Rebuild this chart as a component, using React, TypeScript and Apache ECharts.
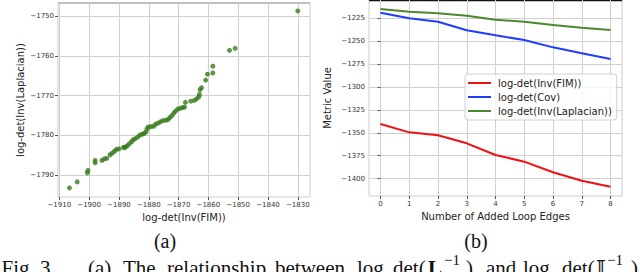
import React, { useEffect, useRef } from "react";
import * as echarts from "echarts";

// ---- Data: subplot (a) scatter ----
const fimLogDet = [
  -1906.6, -1904.0, -1900.6, -1900.4, -1898.0, -1898.0, -1895.7, -1894.9, -1894.1, -1893.0,
  -1892.3, -1891.5, -1890.8, -1890.0, -1888.5, -1888.1, -1887.8, -1887.2, -1886.5, -1885.8,
  -1885.2, -1884.5, -1883.7, -1882.9, -1882.1, -1881.5, -1880.9, -1880.6, -1880.2, -1879.3,
  -1878.4, -1877.7, -1876.9, -1876.1, -1875.3, -1874.3, -1873.5, -1872.9, -1872.2, -1871.6,
  -1871.0, -1870.3, -1869.5, -1868.7, -1868.0, -1867.7, -1865.9, -1864.7, -1863.9, -1863.2,
  -1863.0, -1862.8, -1862.3, -1860.9, -1860.3, -1858.5, -1858.5, -1852.9, -1851.0, -1830.0,
];
const laplacianLogDet = [
  -1793.2, -1791.7, -1789.4, -1788.8, -1786.3, -1786.9, -1786.3, -1785.9, -1785.8, -1784.9,
  -1784.5, -1784.0, -1783.5, -1783.4, -1783.0, -1783.1, -1782.9, -1782.6, -1782.1, -1781.6,
  -1781.1, -1780.8, -1780.4, -1779.9, -1779.7, -1779.5, -1779.1, -1778.4, -1777.9, -1777.8,
  -1777.7, -1777.2, -1776.9, -1776.6, -1776.3, -1776.2, -1776.0, -1775.5, -1775.0, -1774.4,
  -1773.9, -1773.4, -1773.2, -1773.0, -1772.9, -1771.7, -1771.4, -1771.2, -1770.8, -1770.3,
  -1769.7, -1768.5, -1768.0, -1766.1, -1764.6, -1764.3, -1762.6, -1758.6, -1758.1, -1748.7,
];
const scatterXTicks = [-1910, -1900, -1890, -1880, -1870, -1860, -1850, -1840, -1830];
const scatterYTicks = [-1790, -1780, -1770, -1760, -1750];

// ---- Data: subplot (b) lines ----
const addedLoopEdges = [0, 1, 2, 3, 4, 5, 6, 7, 8];
const fimValues = [-1340.4, -1349.5, -1352.7, -1361.5, -1374.2, -1381.5, -1393.0, -1402.3, -1409.0];
const covValues = [-1218.9, -1225.0, -1228.7, -1238.1, -1243.6, -1248.7, -1256.7, -1263.2, -1269.4];
const lapValues = [-1214.8, -1217.8, -1219.5, -1222.2, -1226.5, -1228.7, -1232.3, -1235.3, -1237.8];
const lineYTicks = [-1400, -1375, -1350, -1325, -1300, -1275, -1250, -1225];
const seriesNames = ["log-det(Inv(FIM))", "log-det(Cov)", "log-det(Inv(Laplacian))"];

const SANS = "DejaVu Sans";
const SERIF = "Liberation Serif";
const fmt = (v: number) => String(v).replace("-", "\u2212");

function axisCommon(ticks: number[]) {
  return {
    axisLine: { show: false },
    axisTick: { show: true, length: 3, customValues: ticks, lineStyle: { color: "#555", width: 1 } },
    axisLabel: {
      customValues: ticks,
      fontSize: 7,
      color: "#333",
      margin: 4,
      fontFamily: SANS,
      formatter: (v: number) => fmt(v),
    },
    splitLine: { show: true, lineStyle: { color: "#d0d0d0", width: 1 } },
    nameTextStyle: { fontSize: 10, color: "#222", fontFamily: SANS },
    nameLocation: "middle" as const,
  };
}

export default function App() {
  const ref = useRef<HTMLDivElement>(null);
  useEffect(() => {
    if (!ref.current) return;
    const chart = echarts.init(ref.current, null, { renderer: "svg", width: 640, height: 272 });
    const capText = (text: string, x: number, y: number, extra: any = {}) => ({
      type: "text",
      x,
      y,
      style: {
        text,
        fontSize: 21,
        fontFamily: SERIF,
        fill: "#111",
        align: "left",
        verticalAlign: "middle",
        ...extra,
      },
    });
    const LY = 267.5;
    const SY = 260;
    chart.setOption({
      animation: false,
      backgroundColor: "#fff",
      grid: [
        { left: 58, top: 3, width: 252, height: 194, show: true, borderColor: "#cccccc", borderWidth: 1 },
        { left: 369, top: 0, width: 253, height: 196, show: true, borderColor: "#cccccc", borderWidth: 1 },
      ],
      xAxis: [
        {
          type: "value",
          gridIndex: 0,
          min: -1910.45,
          max: -1825.9,
          name: "log-det(Inv(FIM))",
          nameGap: 15,
          ...axisCommon(scatterXTicks),
        },
        {
          type: "value",
          gridIndex: 1,
          min: -0.4,
          max: 8.4,
          name: "Number of Added Loop Edges",
          nameGap: 15.5,
          ...axisCommon(addedLoopEdges),
        },
      ],
      yAxis: [
        {
          type: "value",
          gridIndex: 0,
          min: -1795.5,
          max: -1746.7,
          name: "log-det(Inv(Laplacian))",
          nameGap: 33,
          ...axisCommon(scatterYTicks),
        },
        {
          type: "value",
          gridIndex: 1,
          min: -1419,
          max: -1205,
          name: "Metric Value",
          nameGap: 36.5,
          ...axisCommon(lineYTicks),
        },
      ],
      legend: {
        show: true,
        orient: "vertical",
        left: 465,
        top: 74,
        data: seriesNames,
        icon: "rect",
        itemWidth: 23,
        itemHeight: 2,
        itemGap: 0,
        padding: [2, 5, 2, 3],
        borderColor: "#d0d0d0",
        borderWidth: 1,
        borderRadius: 3,
        backgroundColor: "rgba(255,255,255,0.8)",
        textStyle: { fontSize: 10, fontFamily: SANS, color: "#222", lineHeight: 14, padding: [0, 0, 0, 2] },
      },
      series: [
        {
          type: "scatter",
          xAxisIndex: 0,
          yAxisIndex: 0,
          symbolSize: 5,
          itemStyle: { color: "#377a1c" },
          data: fimLogDet.map((x, i) => [x, laplacianLogDet[i]]),
        },
        {
          name: seriesNames[0],
          type: "line",
          xAxisIndex: 1,
          yAxisIndex: 1,
          showSymbol: false,
          symbol: "none",
          color: "#f01010",
          lineStyle: { width: 2, color: "#f01010" },
          data: addedLoopEdges.map((x, i) => [x, fimValues[i]]),
        },
        {
          name: seriesNames[1],
          type: "line",
          xAxisIndex: 1,
          yAxisIndex: 1,
          showSymbol: false,
          symbol: "none",
          color: "#1f3cff",
          lineStyle: { width: 2, color: "#1f3cff" },
          data: addedLoopEdges.map((x, i) => [x, covValues[i]]),
        },
        {
          name: seriesNames[2],
          type: "line",
          xAxisIndex: 1,
          yAxisIndex: 1,
          showSymbol: false,
          symbol: "none",
          color: "#4a8a2e",
          lineStyle: { width: 2, color: "#4a8a2e" },
          data: addedLoopEdges.map((x, i) => [x, lapValues[i]]),
        },
      ],
      graphic: [
        { type: "line", shape: { x1: 58, y1: 3, x2: 310, y2: 3 }, style: { stroke: "#999", lineWidth: 1 } },
        { type: "line", shape: { x1: 369, y1: 0.5, x2: 622, y2: 0.5 }, style: { stroke: "#111", lineWidth: 1.5 } },
        capText("(a)", 165, 240.5, { align: "center", fontSize: 20 }),
        capText("(b)", 476, 240.5, { align: "center", fontSize: 20 }),
        capText("Fig.", 1.5, LY),
        capText("3.", 40, LY),
        capText("(a)", 88, LY),
        capText("The", 123, LY),
        capText("relationship", 167, LY),
        capText("between", 275, LY),
        capText("log", 357, LY),
        capText("det(", 393, LY),
        capText("L", 428, LY, { fontWeight: "bold" }),
        capText("\u22121", 444, SY, { fontSize: 15 }),
        capText(")", 466, LY),
        capText("and", 486, LY),
        capText("log", 523, LY),
        capText("det(", 562, LY),
        capText("\uD835\uDD40", 596, LY, { fontFamily: "DejaVu Serif, DejaVu Sans, " + SERIF }),
        capText("\u22121", 607, SY, { fontSize: 15 }),
        capText(")", 631, LY),
      ],
    });
    return () => chart.dispose();
  }, []);
  return <div ref={ref} style={{ position: "fixed", left: 0, top: 0, width: 640, height: 272 }} />;
}
